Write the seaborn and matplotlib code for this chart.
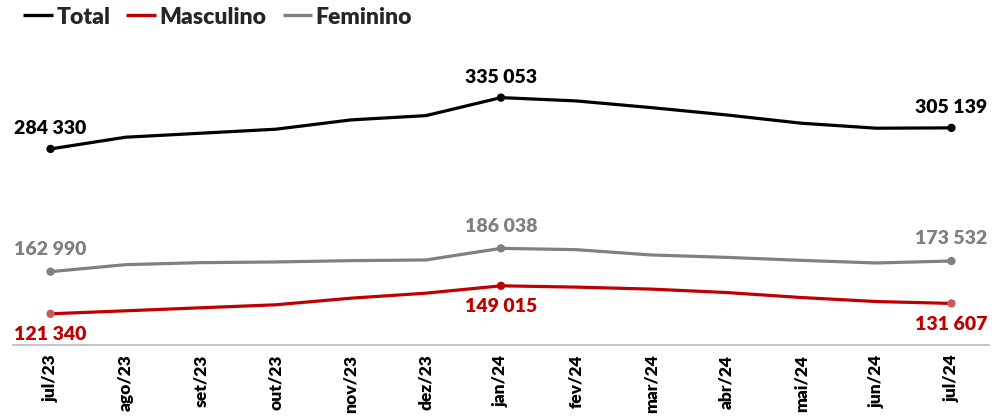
import numpy as np
import pandas as pd
import matplotlib
matplotlib.use("Agg")
import matplotlib.pyplot as plt
import seaborn as sns
from matplotlib.lines import Line2D

months = ["jul/23", "ago/23", "set/23", "out/23", "nov/23", "dez/23", "jan/24",
          "fev/24", "mar/24", "abr/24", "mai/24", "jun/24", "jul/24"]
total = [284330, 295900, 299850, 303810, 313000, 317260, 335053,
         331790, 325170, 317950, 309740, 304800, 305139]
masculino = [121340, 124310, 127280, 130250, 136780, 141730, 149015,
             147730, 145750, 142380, 137430, 133470, 131607]
feminino = [162990, 169920, 171900, 172590, 173880, 174570, 186038,
            184750, 179500, 177130, 174160, 171580, 173532]
series_names = ["Total", "Masculino", "Feminino"]
labeled_idx = [0, 6, 12]

colors = {"Total": "#000000", "Masculino": "#C00000", "Feminino": "#808080"}
marker_colors = {"Total": ["#000000", "#000000", "#000000"],
                 "Masculino": ["#C9585A", "#C00000", "#C9585A"],
                 "Feminino": ["#808080", "#808080", "#808080"]}

FONT = "Lato"
W = "heavy"
sns.set_theme(style="white")
plt.rcParams["font.family"] = [FONT, "DejaVu Sans"]
plt.rcParams["font.weight"] = W

rows = []
for name, vals in zip(series_names, [total, masculino, feminino]):
    for i, (m, v) in enumerate(zip(months, vals)):
        rows.append({"mes": i, "label": m, "serie": name, "valor": v})
df = pd.DataFrame(rows)

fig = plt.figure(figsize=(9.99, 4.19), dpi=100)
ax = fig.add_axes([13 / 999, (419 - 345) / 419, (989 - 13) / 999, (345 - 40) / 419])

sns.lineplot(data=df, x="mes", y="valor", hue="serie", hue_order=series_names,
             palette=colors, linewidth=2.3, ax=ax, legend=False)

sub = df[df["mes"].isin(labeled_idx)]
for name in series_names:
    s = sub[sub["serie"] == name]
    ax.scatter(s["mes"], s["valor"], s=36, color=marker_colors[name], zorder=5,
               edgecolors="none")

def fmt(v):
    return f"{v:,}".replace(",", " ")

offsets = {"Total": 14.5, "Feminino": 16, "Masculino": -15}
for name in series_names:
    s = sub[sub["serie"] == name]
    for _, r in s.iterrows():
        ax.annotate(fmt(int(r["valor"])), (r["mes"], r["valor"]),
                    xytext=(0, offsets[name]), textcoords="offset points",
                    ha="center", va="center", fontsize=14, fontweight=W,
                    color=colors[name])

ax.set_xlim(-0.5, 12.5)
ax.set_ylim(90500, 392000)
ax.set_xticks(range(len(months)))
ax.set_xticklabels(months, rotation=90, fontsize=12.5, fontweight=W, color="#000000")
ax.set_xticks(np.arange(-0.5, 13, 1), minor=True)
ax.tick_params(axis="x", which="major", length=0, pad=7)
ax.tick_params(axis="x", which="minor", length=5, width=1.2, color="#BFBFBF", direction="out")
ax.set_yticks([])
ax.set_xlabel("")
ax.set_ylabel("")
for sp in ["top", "left", "right"]:
    ax.spines[sp].set_visible(False)
ax.spines["bottom"].set_color("#BFBFBF")
ax.spines["bottom"].set_linewidth(1.3)

handles = [Line2D([0], [0], color=colors[n], lw=2.4, solid_capstyle="butt") for n in series_names]
leg = fig.legend(handles, series_names, loc="center left",
                 bbox_to_anchor=(23 / 999, 1 - 17 / 419),
                 ncol=3, frameon=False, handlelength=1.3, handletextpad=0.15,
                 columnspacing=0.7, borderpad=0, borderaxespad=0,
                 prop={"family": FONT, "weight": W, "size": 16.5})

fig.savefig("out.png", dpi=100)
